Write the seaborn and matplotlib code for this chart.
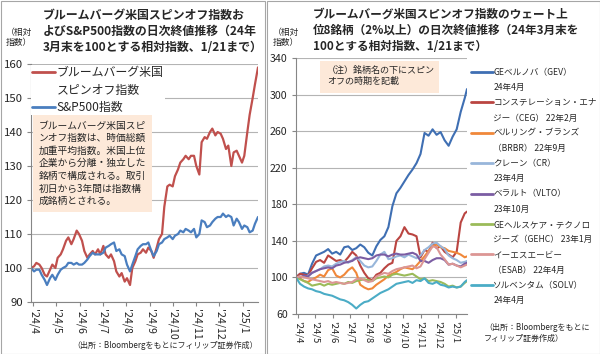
import pandas as pd
import matplotlib
matplotlib.use("Agg")
import matplotlib.pyplot as plt
import matplotlib.dates as mdates
from matplotlib.lines import Line2D
from matplotlib.patches import Rectangle
import seaborn as sns

# ---- left panel: Tue/Fri closes, 2024-03-29 .. 2025-01-21 (24/3末=100) ----
spinoff_idx = [
    100, 100.5, 101.5, 101, 100, 98, 97.5, 99.5, 101, 100,
    103, 104, 105.5, 108, 109, 107, 108.5, 111, 110,
    108, 105, 103, 104, 105, 104, 105.5, 104,
    106.5, 104, 103, 104, 102, 99, 97.5, 98.5, 96,
    97, 95, 100, 102, 104, 104.5, 105.5, 104.5, 106,
    105, 103, 106, 108.5, 110, 118, 124, 124.5,
    124, 127, 129, 131, 132, 133, 132, 133, 133,
    130, 127.5, 137, 138.5, 138, 140, 141, 139, 140,
    139.5, 138, 135, 136, 130, 134, 134.5, 133, 131,
    133, 140, 145, 150, 154, 159,
]
sp500_idx = [
    100, 99, 99.5, 99.5, 98, 96.5, 95, 97, 98, 96.5,
    98, 99.5, 100, 100.5, 101.5, 101.5, 101, 101.5, 101,
    101, 101.5, 102.5, 103.5, 104.5, 104, 104, 104,
    104.5, 106, 106.5, 107, 107.5, 105, 105.5, 104, 103.5,
    101, 99, 101, 103.5, 105.5, 106.5, 107, 107, 107.5,
    105, 103.5, 105, 107, 107.5, 108.5, 109, 109.5,
    108.5, 109.5, 110, 111, 110.5, 111.5, 111, 110.5, 111.5,
    109, 110, 114, 113.5, 112, 112.5, 113.5, 114.5, 115,
    115, 116, 115, 115.5, 115, 112.5, 114.5, 113.5, 111.5,
    112.5, 112, 110.5, 111, 113, 115,
]
left_names = ["ブルームバーグ米国スピンオフ指数", "S&P500指数"]
left_colors = ["#C0504D", "#4A7EBF"]

# ---- right panel: weekly closes of the top-8 constituents ----
gev = [100, 104, 105, 103, 115, 124, 126, 128, 131, 126, 128, 125, 133, 134,
       130, 132, 136, 133, 127, 124, 134, 141, 145, 155, 178, 192, 198, 205,
       212, 218, 225, 235, 258, 255, 262, 256, 259, 250, 244, 254, 262, 281,
       296, 306]
ceg = [100, 104, 103, 102, 110, 117, 119, 116, 124, 121, 118, 119, 117, 122,
       128, 124, 113, 105, 99, 97, 103, 105, 110, 114, 116, 140, 145, 155,
       148, 147, 145, 122, 130, 128, 138, 132, 134, 128, 125, 122, 128, 160,
       170, 172]
brbr = [100, 99, 96, 95, 98, 100, 103, 101, 108, 110, 102, 100, 103, 108,
        111, 105, 92, 89, 87, 88, 92, 95, 98, 102, 104, 106, 109, 111,
        110, 109, 113, 118, 123, 129, 134, 136, 133, 132, 129, 128, 127, 125,
        122, 123]
cr = [100, 101, 100, 102, 105, 107, 109, 112, 113, 112, 115, 117, 118, 116,
      119, 122, 118, 113, 111, 112, 118, 125, 128, 120, 121, 123, 124, 122,
      125, 123, 121, 124, 130, 133, 137, 138, 134, 131, 124, 121, 119, 116,
      117, 118]
vlto = [100, 100, 102, 101, 105, 107, 109, 110, 111, 110, 113, 114, 116, 117,
        118, 121, 122, 121, 120, 121, 124, 125, 125, 123, 125, 126, 125, 125,
        126, 127, 125, 118, 118, 116, 119, 121, 121, 119, 114, 115, 113, 112,
        115, 116]
gehc = [100, 98, 96, 94, 91, 92, 93, 91, 93, 92, 93, 94, 93, 95,
        94, 96, 97, 98, 97, 96, 99, 100, 101, 100, 103, 104, 103, 102,
        103, 104, 101, 98, 99, 96, 97, 96, 95, 93, 90, 91, 89, 90,
        94, 96]
esab = [100, 101, 100, 99, 98, 97, 96, 95, 96, 94, 95, 94, 93, 94,
        95, 98, 99, 97, 95, 96, 101, 103, 105, 104, 107, 109, 110, 111,
        112, 113, 110, 112, 120, 127, 134, 133, 125, 120, 114, 115, 113, 111,
        113, 114]
solv = [100, 93, 90, 88, 87, 85, 84, 82, 81, 80, 78, 76, 75, 73,
        70, 66, 70, 73, 74, 77, 80, 83, 85, 87, 90, 93, 94, 95,
        96, 94, 97, 96, 99, 94, 93, 95, 92, 91, 89, 90, 89, 90,
        95, 97]
right_series = [gev, ceg, brbr, cr, vlto, gehc, esab, solv]
right_keys = ["GEV", "CEG", "BRBR", "CR", "VLTO", "GEHC", "ESAB", "SOLV"]
right_colors = ["#3F6FB3", "#BA4541", "#F0883A", "#98B6DA",
                "#7B5DA3", "#9BBB59", "#DC9694", "#4BACC6"]
right_labels = [
    ("GEベルノバ（GEV）", "24年4月"),
    ("コンステレーション・エナ", "ジー（CEG） 22年2月"),
    ("ベルリング・ブランズ", "（BRBR） 22年9月"),
    ("クレーン（CR）", "23年4月"),
    ("ベラルト（VLTO）", "23年10月"),
    ("GEヘルスケア・テクノロ", "ジーズ（GEHC） 23年1月"),
    ("イーエスエービー", "（ESAB） 22年4月"),
    ("ソルベンタム（SOLV）", "24年4月"),
]

left_title = ("ブルームバーグ米国スピンオフ指数お\n"
              "よびS&P500指数の日次終値推移（24年\n"
              "3月末を100とする相対指数、1/21まで）")
right_title = ("ブルームバーグ米国スピンオフ指数のウェート上\n"
               "位8銘柄（2%以上）の日次終値推移（24年3月末を\n"
               "100とする相対指数、1/21まで）")
left_note = ("ブルームバーグ米国スピ\nンオフ指数は、時価総額\n加重平均指数。米国上位\n"
             "企業から分離・独立した\n銘柄で構成される。取引\n初日から3年間は指数構\n成銘柄とされる。")
right_note = "（注）銘柄名の下にスピン\nオフの時期を記載"

GRID = "#b4b4b4"
AXIS = "#868686"
PEACH = "#FDE9D9"


def twice_weekly_dates():
    d = pd.date_range("2024-03-29", "2025-01-21", freq="D")
    return d[d.weekday.isin([1, 4])]


def weekly_dates():
    d = pd.date_range("2024-03-29", "2025-01-17", freq="W-FRI")
    return d.append(pd.DatetimeIndex(["2025-01-21"]))


def month_label(x, pos):
    d = mdates.num2date(x)
    return f"'{d:%y}/{d.month}"


def style_axes(ax, ylim, yticks, ysize, xsize):
    ax.set_xlim(pd.Timestamp("2024-03-29"), pd.Timestamp("2025-01-21"))
    ax.set_ylim(*ylim)
    ax.set_yticks(yticks)
    ax.xaxis.set_major_locator(mdates.MonthLocator())
    ax.xaxis.set_major_formatter(plt.FuncFormatter(month_label))
    ax.yaxis.grid(True, color=GRID, lw=0.8)
    ax.xaxis.grid(False)
    ax.set_axisbelow(True)
    for s in ["top", "right"]:
        ax.spines[s].set_visible(False)
    for s in ["left", "bottom"]:
        ax.spines[s].set_color(AXIS)
        ax.spines[s].set_linewidth(0.8)
    ax.tick_params(axis="both", direction="out", length=3, width=0.8,
                   color=AXIS, bottom=True, left=True)
    ax.tick_params(axis="y", labelsize=ysize, pad=3)
    ax.tick_params(axis="x", labelsize=xsize, labelrotation=-90, pad=2)
    ax.set_xlabel("")
    ax.set_ylabel("")


sns.set_theme(style="white")
plt.rcParams["font.family"] = ["Noto Sans CJK JP", "DejaVu Sans"]

fig = plt.figure(figsize=(6, 3.54), dpi=100)

# ---------------- left panel ----------------
ax1 = fig.add_axes([31 / 600, 1 - 302 / 354, 227 / 600, 238 / 354])
ld = twice_weekly_dates()
assert len(ld) == len(spinoff_idx) == len(sp500_idx)
left_df = pd.concat([
    pd.DataFrame({"date": ld, "value": spinoff_idx, "series": left_names[0]}),
    pd.DataFrame({"date": ld, "value": sp500_idx, "series": left_names[1]}),
])
sns.lineplot(data=left_df, x="date", y="value", hue="series", hue_order=left_names,
             palette=dict(zip(left_names, left_colors)), linewidth=1.6,
             legend=False, ax=ax1)
style_axes(ax1, (90, 160), range(90, 161, 10), 8.2, 7.6)

blank = Line2D([], [], lw=0)
lh = [Line2D([], [], color=left_colors[0], lw=2), blank,
      Line2D([], [], color=left_colors[1], lw=2)]
leg1 = ax1.legend(lh, ["ブルームバーグ米国", "スピンオフ指数", "S&P500指数"],
                  loc="upper left", bbox_to_anchor=(0.0, 0.995), frameon=True,
                  fancybox=False, edgecolor="none", facecolor="white",
                  framealpha=1, fontsize=8.6, handlelength=1.9, handletextpad=0.15,
                  labelspacing=0.36, borderpad=0.1, borderaxespad=0.0)
leg1.set_zorder(4)

# note box sits on top of the legend frame
ax1.add_patch(Rectangle((0.009, 0.378), 0.524, 0.408, transform=ax1.transAxes,
                        facecolor=PEACH, edgecolor="none", zorder=6))
ax1.text(0.035, 0.762, left_note, transform=ax1.transAxes, va="top", ha="left",
         fontsize=7, linespacing=1.32, zorder=7)

# ---------------- right panel ----------------
ax2 = fig.add_axes([296 / 600, 1 - 314 / 354, 171 / 600, 256 / 354])
rd = weekly_dates()
frames = []
for key, vals in zip(right_keys, right_series):
    assert len(vals) == len(rd)
    frames.append(pd.DataFrame({"date": rd, "value": vals, "series": key}))
right_df = pd.concat(frames)
sns.lineplot(data=right_df, x="date", y="value", hue="series", hue_order=right_keys,
             palette=dict(zip(right_keys, right_colors)), linewidth=1.5,
             legend=False, ax=ax2)
style_axes(ax2, (60, 340), range(60, 341, 40), 7.6, 6.8)

ax2.add_patch(Rectangle((0.140, 0.863), 0.696, 0.125, transform=ax2.transAxes,
                        facecolor=PEACH, edgecolor="none", zorder=4))
ax2.text(0.181, 0.97, right_note, transform=ax2.transAxes, va="top", ha="left",
         fontsize=6.5, linespacing=1.3, zorder=6)

rh, rl = [], []
for color, (l1, l2) in zip(right_colors, right_labels):
    rh += [Line2D([], [], color=color, lw=2), blank]
    rl += [l1, l2]
fig.legend(rh, rl, loc="upper left", bbox_to_anchor=(471 / 600, 1 - 68 / 354),
           frameon=False, fontsize=6.2, handlelength=2.5, handletextpad=0.1,
           labelspacing=0.72, borderpad=0.0, borderaxespad=0.0)

# ---------------- titles, units, sources ----------------
fig.text(43 / 600, 1 - 9 / 354, left_title, ha="left", va="top", fontsize=8.6,
         fontweight="bold", linespacing=1.32)
fig.text(313 / 600, 1 - 8 / 354, right_title, ha="left", va="top", fontsize=8.4,
         fontweight="bold", linespacing=1.3)
fig.text(19 / 600, 1 - 37 / 354, "（相対\n指数）", ha="center", va="center",
         fontsize=6.3, linespacing=1.15)
fig.text(286 / 600, 1 - 37 / 354, "（相対\n指数）", ha="center", va="center",
         fontsize=6.3, linespacing=1.15)
fig.text(258 / 600, 1 - 345 / 354, "（出所：Bloombergをもとにフィリップ証券作成）",
         ha="right", va="center", fontsize=5.8)
fig.text(484 / 600, 1 - 333 / 354, "（出所：Bloombergをもとに\nフィリップ証券作成）",
         ha="left", va="center", fontsize=5.8, linespacing=1.2)

# panel frames
for x0, x1 in [(0.5, 264.5), (266.5, 599.5)]:
    fig.add_artist(Rectangle((x0 / 600, 0.5 / 354), (x1 - x0) / 600, 353 / 354,
                             transform=fig.transFigure, fill=False,
                             edgecolor="#a6a6a6", lw=0.8))

fig.savefig("out.png", dpi=100)
